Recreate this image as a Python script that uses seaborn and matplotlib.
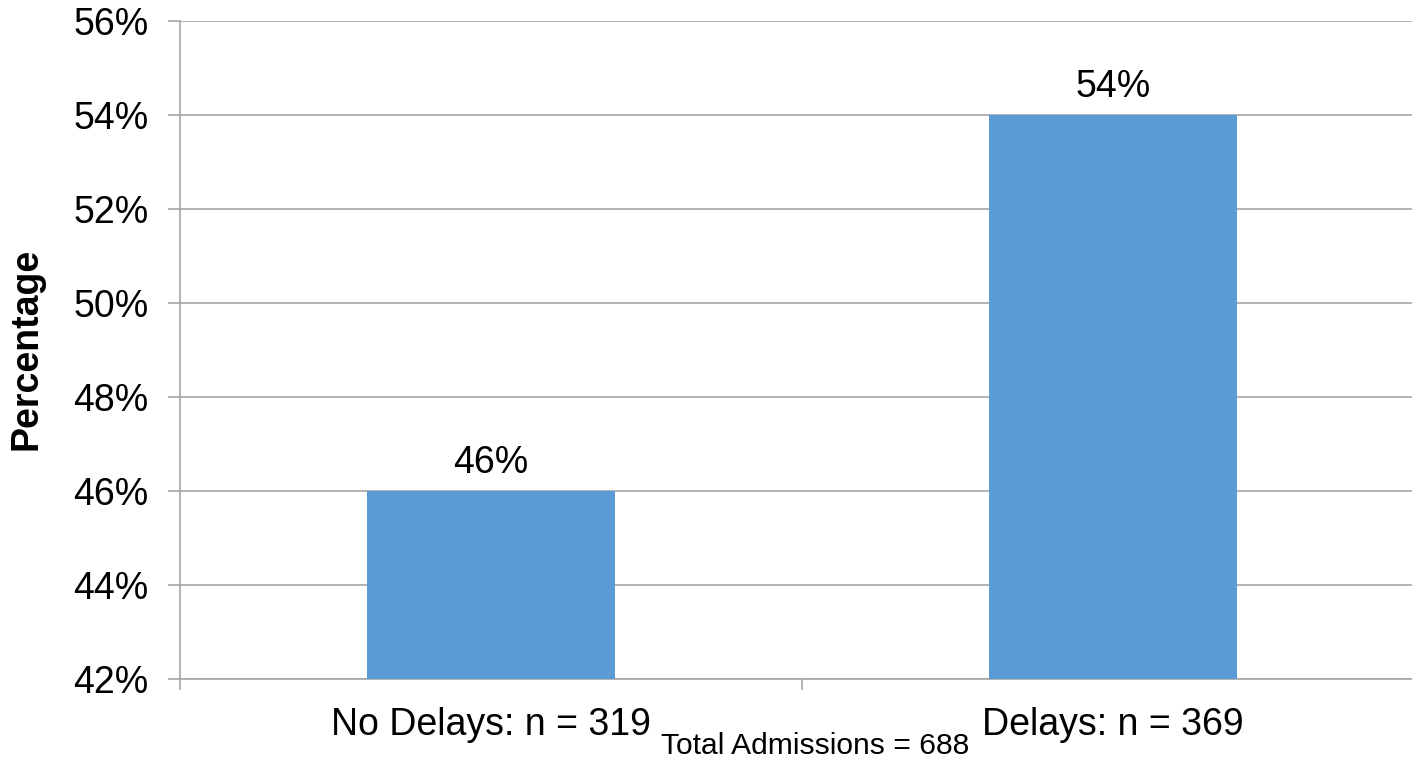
import matplotlib
matplotlib.use('Agg')
import matplotlib.pyplot as plt
import seaborn as sns
import pandas as pd

# Chart data
categories = ['No Delays: n = 319', 'Delays: n = 369']
percentages = [46, 54]
bar_labels = ['46%', '54%']
total_note = 'Total Admissions = 688'

df = pd.DataFrame({'Group': categories, 'Percentage': percentages})

sns.set_style('white')
plt.rcParams['font.family'] = ['Liberation Sans', 'DejaVu Sans']
plt.rcParams['text.color'] = 'black'
plt.rcParams['axes.labelcolor'] = 'black'
plt.rcParams['xtick.color'] = 'black'
plt.rcParams['ytick.color'] = 'black'

fig = plt.figure(figsize=(14.12, 7.59), dpi=100)
ax = fig.add_axes([0.1275, 0.1054, 0.881, 0.8669])

sns.barplot(data=df, x='Group', y='Percentage', color='#5B9BD5', width=0.4,
            saturation=1, edgecolor='none', linewidth=0, ax=ax, zorder=3)

ax.set_ylim(42, 56)
ax.set_yticks(range(42, 57, 2))
ax.set_yticklabels([f'{v}%' for v in range(42, 57, 2)], fontsize=27)
ax.set_xlim(-0.5, 1.5)
ax.tick_params(axis='x', which='major', bottom=False, length=0, pad=20,
               labelsize=27, labelcolor='black')
ax.tick_params(axis='y', left=True, length=8.6, width=1.2, color='#a6a6a6',
               pad=14, labelcolor='black')
ax.set_xticks([-0.5, 0.5, 1.5], minor=True)
ax.tick_params(axis='x', which='minor', bottom=True, length=8, width=1.2,
               color='#a6a6a6')
ax.yaxis.grid(True, color='#a6a6a6', linewidth=1.2, zorder=0)
ax.set_axisbelow(True)

for side in ['top', 'right']:
    ax.spines[side].set_visible(False)
for side in ['left', 'bottom']:
    ax.spines[side].set_color('#a6a6a6')
    ax.spines[side].set_linewidth(1.2)

ax.set_xlabel('')
ax.set_ylabel('')
fig.text(0.0191, 0.540, 'Percentage', rotation=90, ha='center', va='center',
         fontsize=27, fontweight='bold', color='black')

# value labels above bars
for i, (v, lab) in enumerate(zip(percentages, bar_labels)):
    ax.annotate(lab, (i, v), xytext=(0, 7), textcoords='offset points',
                ha='center', va='bottom', fontsize=27, color='black')

fig.text(0.5776, 0.006, total_note, ha='center', va='baseline', fontsize=21.6,
         color='black')

fig.savefig('out.png', dpi=100)
